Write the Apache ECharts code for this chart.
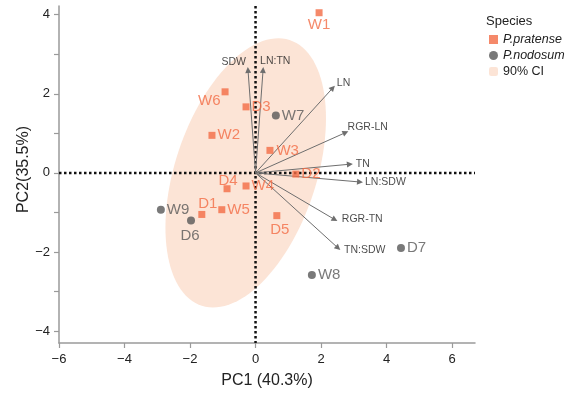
<!DOCTYPE html>
<html><head><meta charset="utf-8">
<script src="https://cdn.jsdelivr.net/npm/echarts@6/dist/echarts.min.js"></script>
<style>html,body{margin:0;padding:0;background:#fff}#c{width:567px;height:394px}</style>
</head><body><div id="c"></div>
<script>
// ---- data ----
const pratenseNames = ['W1','W6','D3','W2','W3','D2','D4','W4','D1','W5','D5'];
const pratenseX = [1.94,-0.93,-0.29,-1.33,0.44,1.23,-0.87,-0.29,-1.64,-1.03,0.65];
const pratenseY = [4.05,2.05,1.67,0.95,0.57,-0.03,-0.40,-0.33,-1.05,-0.93,-1.08];
const nodosumNames = ['W7','W9','D6','D7','W8'];
const nodosumX = [0.62,-2.89,-1.97,4.44,1.72];
const nodosumY = [1.45,-0.93,-1.20,-1.90,-2.58];
const vectorNames = ['SDW','LN:TN','LN','RGR-LN','TN','LN:SDW','RGR-TN','TN:SDW'];
const vectorX = [-0.23,0.23,2.36,2.75,2.88,3.19,2.42,2.52];
const vectorY = [2.60,2.60,2.15,1.02,0.22,-0.23,-1.18,-1.90];
const ellipseCenter = [-0.3, 0.0];
const ellipseSemiAxes = [3.63, 2.10];
const ellipseAngleDeg = 64.75;
const origin = [0, 0];
const xTicks = [-6,-4,-2,0,2,4,6];
const yTicks = [-4,-2,0,2,4];
const yMinorTicks = [-4,-3,-2,-1,0,1,2,3,4];

// ---- styling ----
const FONT = '"Liberation Sans", Arial, sans-serif';
const ORANGE = '#F26B45';
const GREY = '#575757';
const CI_FILL = '#FCE4D6';
const pointLabelLayout = {
  W1:['bottom',1,[0,0]], W6:['left',1,[0,9]], D3:['right',2,[0,0]], W2:['right',2,[0,0]],
  W3:['right',3,[0,0]], D2:['right',2,[0,0]], D4:['top',-3,[1,0]], W4:['right',2,[0,0]],
  D1:['top',0,[6,0]], W5:['right',2,[0,0]], D5:['bottom',3,[3,0]],
  W7:['right',2,[0,0]], W9:['right',2,[0,0]], D6:['bottom',4,[-1,0]], D7:['right',2,[0,0]], W8:['right',2,[0,0]]
};
const vecLabelLayout = {
  'SDW':['left',2,[0,-8]], 'LN:TN':['right',-3,[0,-9]], 'LN':['right',4,[0,-5]], 'RGR-LN':['right',2,[0,-5]],
  'TN':['right',6,[0,0]], 'LN:SDW':['right',5,[0,0]], 'RGR-TN':['right',7,[0,0]], 'TN:SDW':['right',6,[0,2]]
};
const minus = v => String(v).replace('-', '\u2212');

function pointData(names, xs, ys, color) {
  return names.map((n, i) => {
    const L = pointLabelLayout[n];
    return { name: n, value: [xs[i], ys[i]],
      label: { show: true, formatter: n, position: L[0], distance: L[1], offset: L[2],
               color: color, fontSize: 15, fontFamily: FONT } };
  });
}

const chart = echarts.init(document.getElementById('c'), null, { renderer: 'canvas' });
const axisCommon = {
  type: 'value',
  splitLine: { show: false },
  nameMoveOverlap: false,
  axisLine: { show: true, onZero: false, lineStyle: { color: '#9a9a9a', width: 1.5 } }
};
chart.setOption({
  animation: false,
  backgroundColor: '#fff',
  textStyle: { fontFamily: FONT },
  title: { text: 'Species', left: 481, top: 10,
    textStyle: { fontSize: 13, fontWeight: 'normal', color: '#222', fontFamily: FONT } },
  legend: {
    orient: 'vertical', left: 484, top: 28, itemGap: 3, itemWidth: 9, itemHeight: 9, itemTextGap: 8,
    textStyle: { fontSize: 12.5, color: '#222', fontFamily: FONT },
    data: [
      { name: 'P.pratense', icon: 'rect', textStyle: { fontStyle: 'italic' } },
      { name: 'P.nodosum', icon: 'circle', textStyle: { fontStyle: 'italic' } },
      { name: '90% CI', icon: 'roundRect' }
    ]
  },
  grid: { left: 59, top: 6, width: 416, height: 341 },
  xAxis: Object.assign({}, axisCommon, {
    min: -6, max: 6.7,
    name: 'PC1 (40.3%)', nameLocation: 'middle', nameGap: 30,
    nameTextStyle: { fontSize: 16, color: '#222', fontFamily: FONT },
    axisTick: { show: true, customValues: xTicks, length: 5, lineStyle: { color: '#9a9a9a', width: 1.2 } },
    axisLabel: { customValues: xTicks, formatter: minus, fontSize: 13, color: '#222', margin: 10 }
  }),
  yAxis: Object.assign({}, axisCommon, {
    min: -4.3, max: 4.22,
    name: 'PC2(35.5%)', nameLocation: 'middle', nameGap: 27,
    nameTextStyle: { fontSize: 16, color: '#222', fontFamily: FONT, padding: [0, 0, 0, 10] },
    axisTick: { show: true, customValues: yMinorTicks, length: 5, lineStyle: { color: '#9a9a9a', width: 1.2 } },
    axisLabel: { customValues: yTicks, formatter: minus, fontSize: 13, color: '#222', margin: 9 }
  }),
  series: [
    {
      name: '90% CI', type: 'custom', z: 1, silent: true,
      itemStyle: { color: CI_FILL },
      data: [ellipseCenter],
      renderItem: function (params, api) {
        const cx = api.value(0), cy = api.value(1);
        const a = ellipseSemiAxes[0], b = ellipseSemiAxes[1];
        const th = ellipseAngleDeg * Math.PI / 180;
        const pts = [];
        for (let k = 0; k < 120; k++) {
          const t = 2 * Math.PI * k / 120;
          const dx = a * Math.cos(t), dy = b * Math.sin(t);
          pts.push(api.coord([cx + dx * Math.cos(th) - dy * Math.sin(th),
                              cy + dx * Math.sin(th) + dy * Math.cos(th)]));
        }
        return { type: 'polygon', shape: { points: pts }, style: { fill: CI_FILL } };
      }
    },
    {
      name: 'zero', type: 'custom', z: 2, silent: true,
      data: [origin],
      renderItem: function (params, api) {
        const o = api.coord([api.value(0), api.value(1)]);
        const cs = params.coordSys;
        const st = { stroke: '#111', lineWidth: 2.5, lineDash: [2.5, 2.5], fill: null };
        return { type: 'group', children: [
          { type: 'line', shape: { x1: o[0], y1: cs.y, x2: o[0], y2: cs.y + cs.height }, style: st },
          { type: 'line', shape: { x1: cs.x, y1: o[1], x2: cs.x + cs.width, y2: o[1] }, style: st }
        ] };
      }
    },
    {
      name: 'vectors', type: 'lines', coordinateSystem: 'cartesian2d', z: 3, silent: true,
      symbol: ['none', 'triangle'], symbolSize: 6,
      lineStyle: { color: '#6e6e6e', width: 1, opacity: 1 },
      data: vectorNames.map((n, i) => ({ name: n, coords: [origin, [vectorX[i], vectorY[i]]] }))
    },
    {
      name: 'vectorLabels', type: 'scatter', z: 3, silent: true, symbolSize: 0,
      data: vectorNames.map((n, i) => {
        const L = vecLabelLayout[n];
        return { name: n, value: [vectorX[i], vectorY[i]],
          label: { show: true, formatter: n, position: L[0], distance: L[1], offset: L[2],
                   fontSize: 10.5, color: '#1a1a1a', fontFamily: FONT } };
      })
    },
    {
      name: 'P.nodosum', type: 'scatter', z: 10, symbol: 'circle', symbolSize: 8,
      itemStyle: { color: GREY },
      data: pointData(nodosumNames, nodosumX, nodosumY, GREY)
    },
    {
      name: 'P.pratense', type: 'scatter', z: 10, symbol: 'rect', symbolSize: 7,
      itemStyle: { color: ORANGE },
      data: pointData(pratenseNames, pratenseX, pratenseY, ORANGE)
    }
  ]
});
</script>
</body></html>
